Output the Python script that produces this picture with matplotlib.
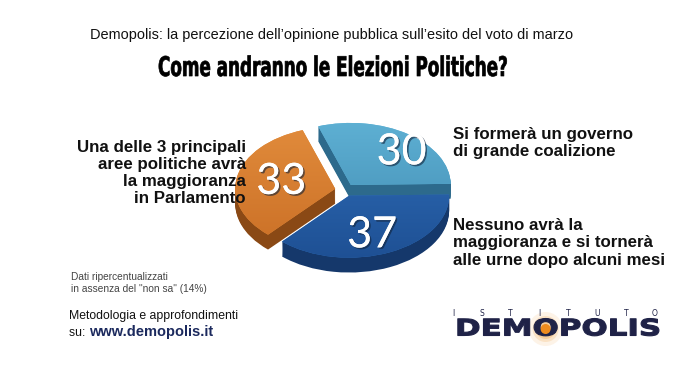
import matplotlib
matplotlib.use("Agg")
import matplotlib.pyplot as plt
import numpy as np
import matplotlib.patheffects as pe
from matplotlib.colors import LinearSegmentedColormap
from matplotlib.patches import Ellipse
from matplotlib.transforms import Affine2D

# ---- data ----
values = [30, 37, 33]
slice_labels = [
    "Si formerà un governo\ndi grande coalizione",
    "Nessuno avrà la\nmaggioranza e si tornerà\nalle urne dopo alcuni mesi",
    "Una delle 3 principali\naree politiche avrà\nla maggioranza\nin Parlamento",
]
top_light = ["#62b5d8", "#3273bf", "#e5903f"]
top_dark = ["#3b84ab", "#1c4c8f", "#c66a22"]
side_colors = ["#2d6a8c", "#15386b", "#8a4915"]
label_radius = [0.73, 0.68, 0.55]
label_turn = [-8, -4, 0]

subtitle = "Demopolis: la percezione dell\u2019opinione pubblica sull\u2019esito del voto di marzo"
title = "Come andranno le Elezioni Politiche?"
note = "Dati ripercentualizzati\nin assenza del \"non sa\" (14%)"
logo_top = "ISTITUTO"
logo_word = "DEMOPOLIS"

W, H = 700, 368
fig = plt.figure(figsize=(W / 100, H / 100), dpi=100)
fig.patch.set_facecolor("white")


def fx(px):
    return px / W


def fy(py):
    return 1 - py / H


class HStretch(pe.AbstractPathEffect):
    """Stretch glyphs horizontally about a display x, with optional thickening stroke."""

    def __init__(self, sx, ox, lw=0.0):
        super().__init__()
        self.sx, self.ox, self.lw = sx, ox, lw

    def draw_path(self, renderer, gc, tpath, affine, rgbFace=None):
        t = affine + Affine2D().translate(-self.ox, 0).scale(self.sx, 1).translate(self.ox, 0)
        gc0 = renderer.new_gc()
        gc0.copy_properties(gc)
        if self.lw > 0 and rgbFace is not None:
            gc0.set_linewidth(self.lw)
            gc0.set_foreground(rgbFace)
        renderer.draw_path(gc0, tpath, t, rgbFace)
        gc0.restore()


# ---- pie axes (elliptical via non-equal aspect) ----
cy = 190
ax = fig.add_axes([230 / W, (H - 283) / H, 230 / W, 175 / H])
depth = 0.24
N = 14
explode = [0.1, 0.1, 0.1]
start = 109
for k in range(N, 0, -1):
    ax.pie(values, startangle=start, counterclock=False, explode=explode,
           center=(0, -depth * k / N), colors=side_colors, radius=1,
           wedgeprops=dict(linewidth=0))

wedges, _, autotexts = ax.pie(
    values, startangle=start, counterclock=False, explode=explode,
    colors=top_light, radius=1, autopct=lambda p: f"{p:.0f}", pctdistance=0.74,
    wedgeprops=dict(linewidth=0),
    textprops=dict(color="white", fontsize=31, family=["Lato", "DejaVu Sans"]))

grad = np.linspace(0, 1, 256).reshape(-1, 1)
for w, c1, c2 in zip(wedges, top_light, top_dark):
    cmap = LinearSegmentedColormap.from_list("g", [c1, c2])
    im = ax.imshow(grad, extent=[-1.4, 1.4, -1.4, 1.4], cmap=cmap,
                   aspect="auto", origin="upper", zorder=1.5)
    im.set_clip_path(w)

for w, t, rr, turn, ex in zip(wedges, autotexts, label_radius, label_turn, explode):
    mid = np.deg2rad((w.theta1 + w.theta2) / 2 + turn)
    t.set_position(((rr + ex) * np.cos(mid), (rr + ex) * np.sin(mid)))
    t.set_zorder(5)
    t.set_path_effects([pe.withSimplePatchShadow(offset=(1.2, -1.2),
                                                 shadow_rgbFace="#10223a", alpha=0.6),
                        pe.Normal()])

ax.set_aspect("auto")
ax.set_xlim(-1.15, 1.15)
ax.set_ylim(-(283 - cy) / 62, (cy - 108) / 62)
ax.axis("off")

r = fig.canvas.get_renderer()

# ---- titles ----
st = fig.text(fx(332), fy(35), subtitle, ha="center", va="center", fontsize=11,
              family=["Liberation Sans", "DejaVu Sans"], color="#111111")
tt = fig.text(fx(333), fy(69), title, ha="center", va="center", fontsize=19.5,
              family=["DejaVu Sans"], weight="bold", color="#000000")
fig.canvas.draw()
st.set_fontsize(11 * 479 / st.get_window_extent(r).width)
sx_title = 350 / tt.get_window_extent(r).width
tt.set_path_effects([HStretch(sx_title, 333, lw=0.5)])

# ---- slice labels ----
lab_kw = dict(fontsize=12.2, weight="bold", family=["Liberation Sans", "DejaVu Sans"],
              color="#111111", linespacing=1.17)
fig.text(fx(453), fy(143), slice_labels[0], ha="left", va="center", **lab_kw)
fig.text(fx(453), fy(243), slice_labels[1], ha="left", va="center", **lab_kw)
fig.text(fx(246), fy(173), slice_labels[2], ha="right", va="center",
         multialignment="right", **lab_kw)

# ---- footnotes ----
fig.text(fx(71), fy(283), note, ha="left", va="center", fontsize=7.3,
         family=["Liberation Sans", "DejaVu Sans"], color="#444444", linespacing=1.15)
fig.text(fx(69), fy(316), "Metodologia e approfondimenti", ha="left", va="center",
         fontsize=8.8, family=["Liberation Sans", "DejaVu Sans"], color="#111111")
su = fig.text(fx(69), fy(333), "su: ", ha="left", va="center", fontsize=8.8,
              family=["Liberation Sans", "DejaVu Sans"], color="#111111")
fig.canvas.draw()
e = su.get_window_extent(r)
fig.text(e.x1 / W, fy(332), "www.demopolis.it", ha="left", va="center",
         fontsize=10.5, weight="bold", family=["Liberation Sans", "DejaVu Sans"],
         color="#1c2a5e")

# ---- logo ----
navy = "#1f2247"
for ch, xc in zip(logo_top, np.linspace(453, 655, len(logo_top))):
    fig.text(fx(xc), fy(313), ch, ha="center", va="center", fontsize=5.5,
             family=["DejaVu Sans"], color=navy)

lx0, lx1 = 455, 661
logo_kw = dict(fontsize=16.5, weight="bold", family=["DejaVu Sans"], color=navy)
lg = fig.text(fx(lx0), fy(329), logo_word, ha="left", va="center", zorder=5, **logo_kw)
p1 = fig.text(0, 0, logo_word[:3], **logo_kw)
p2 = fig.text(0, 0, logo_word[:4], **logo_kw)
fig.canvas.draw()
wfull = lg.get_window_extent(r).width
o_nat = (p1.get_window_extent(r).width + p2.get_window_extent(r).width) / 2
p1.remove()
p2.remove()
sx_logo = (lx1 - lx0) / wfull
lg.set_path_effects([HStretch(sx_logo, lx0, lw=0.8)])
o_center = lx0 + sx_logo * o_nat
for rad, a in [(17, 0.12), (13, 0.2), (10, 0.3)]:
    fig.patches.append(Ellipse((fx(o_center), fy(329)), 2 * rad / W, 2 * rad / H,
                               transform=fig.transFigure, color="#f0a040", alpha=a,
                               zorder=1, linewidth=0))
fig.patches.append(Ellipse((fx(o_center), fy(329)), 10 / W, 10 / H, transform=fig.transFigure,
                           color="#f08c1e", zorder=6, linewidth=0))

fig.savefig("out.png", dpi=100, facecolor="white")
